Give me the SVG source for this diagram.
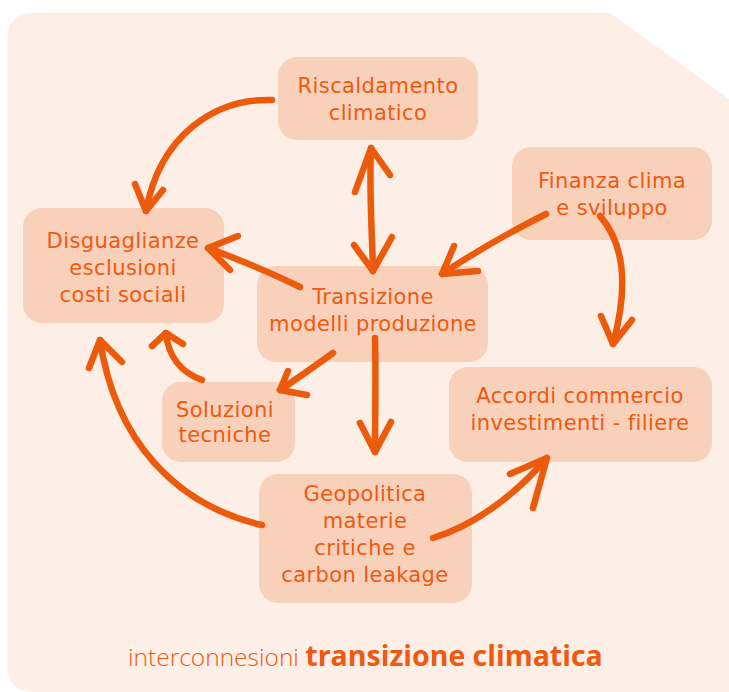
<svg xmlns="http://www.w3.org/2000/svg" width="729" height="692" viewBox="0 0 729 692">
<style>
.bg{fill:#FDEEE6}
.box{fill:#F9D1BA}
.lbl{font-family:"DejaVu Sans",sans-serif;font-size:21px;fill:#EE5A10;text-anchor:middle;letter-spacing:0.4px}
.arr{fill:none;stroke:#EC5A0C;stroke-width:6.5;stroke-linecap:round;stroke-linejoin:round}
.ttl{font-family:"Open Sans",sans-serif;fill:#EE5A10}
</style>
<rect width="729" height="692" fill="#ffffff"/>
<path class="bg" d="M35,13 H610 L729,99 V692 H35 Q7,692 7,664 V41 Q7,13 35,13 Z"/>

<g id="n-riscaldamento">
<rect class="box" x="278" y="57" width="200" height="83" rx="19"/>
<text class="lbl" x="378" y="93">Riscaldamento</text>
<text class="lbl" x="378" y="120">climatico</text>
</g>
<g id="n-finanza">
<rect class="box" x="512" y="147" width="200" height="93" rx="19"/>
<text class="lbl" x="612" y="188">Finanza clima</text>
<text class="lbl" x="612" y="215">e sviluppo</text>
</g>
<g id="n-disuguaglianze">
<rect class="box" x="23" y="208" width="201" height="115" rx="19"/>
<text class="lbl" x="123" y="248">Disguaglianze</text>
<text class="lbl" x="123" y="275">esclusioni</text>
<text class="lbl" x="123" y="302">costi sociali</text>
</g>
<g id="n-transizione">
<rect class="box" x="257" y="266" width="231" height="96" rx="19"/>
<text class="lbl" x="373" y="304">Transizione</text>
<text class="lbl" x="373" y="331">modelli produzione</text>
</g>
<g id="n-soluzioni">
<rect class="box" x="162" y="382" width="133" height="80" rx="19"/>
<text class="lbl" x="225" y="417">Soluzioni</text>
<text class="lbl" x="225" y="442">tecniche</text>
</g>
<g id="n-accordi">
<rect class="box" x="449" y="367" width="263" height="95" rx="19"/>
<text class="lbl" x="580" y="403">Accordi commercio</text>
<text class="lbl" x="580" y="430">investimenti - filiere</text>
</g>
<g id="n-geopolitica">
<rect class="box" x="259" y="474" width="213" height="129" rx="19"/>
<text class="lbl" x="365" y="501">Geopolitica</text>
<text class="lbl" x="365" y="528">materie</text>
<text class="lbl" x="365" y="555">critiche e</text>
<text class="lbl" x="365" y="582">carbon leakage</text>
</g>

<g id="connectors">
<path class="arr" d="M272,100 C215,98 160,135 146,211"/>
<path class="arr" d="M135,184 L146,211 L163,190"/>

<path class="arr" d="M371,148 C369,190 372,230 373,271"/>
<path class="arr" d="M355,192 L371,148 L390,175"/>
<path class="arr" d="M354,245 L373,271 L392,237"/>

<path class="arr" d="M300,287 C270,272 240,260 208,248"/>
<path class="arr" d="M238,236 L208,248 L230,270"/>

<path class="arr" d="M546,214 C510,232 475,252 442,274"/>
<path class="arr" d="M454,246 L442,274 L478,271"/>

<path class="arr" d="M600,216 C630,250 625,300 613,344"/>
<path class="arr" d="M601,316 L613,344 L632,320"/>

<path class="arr" d="M333,353 C315,366 298,378 280,390"/>
<path class="arr" d="M288,371 L280,390 L307,395"/>

<path class="arr" d="M202,380 C180,372 168,355 166,333"/>
<path class="arr" d="M152,346 L166,333 L183,344"/>

<path class="arr" d="M375,338 C376,380 375,420 375,452"/>
<path class="arr" d="M360,423 L375,452 L391,422"/>

<path class="arr" d="M262,525 C175,505 115,440 100,340"/>
<path class="arr" d="M89,368 L100,340 L122,362"/>

<path class="arr" d="M433,538 C475,525 515,495 547,458"/>
<path class="arr" d="M510,474 L547,458 L533,508"/>
</g>

<text class="ttl" x="128" y="666"><tspan font-weight="300" font-size="24.5">interconnesioni </tspan><tspan font-weight="700" font-size="28.5">transizione climatica</tspan></text>
</svg>
